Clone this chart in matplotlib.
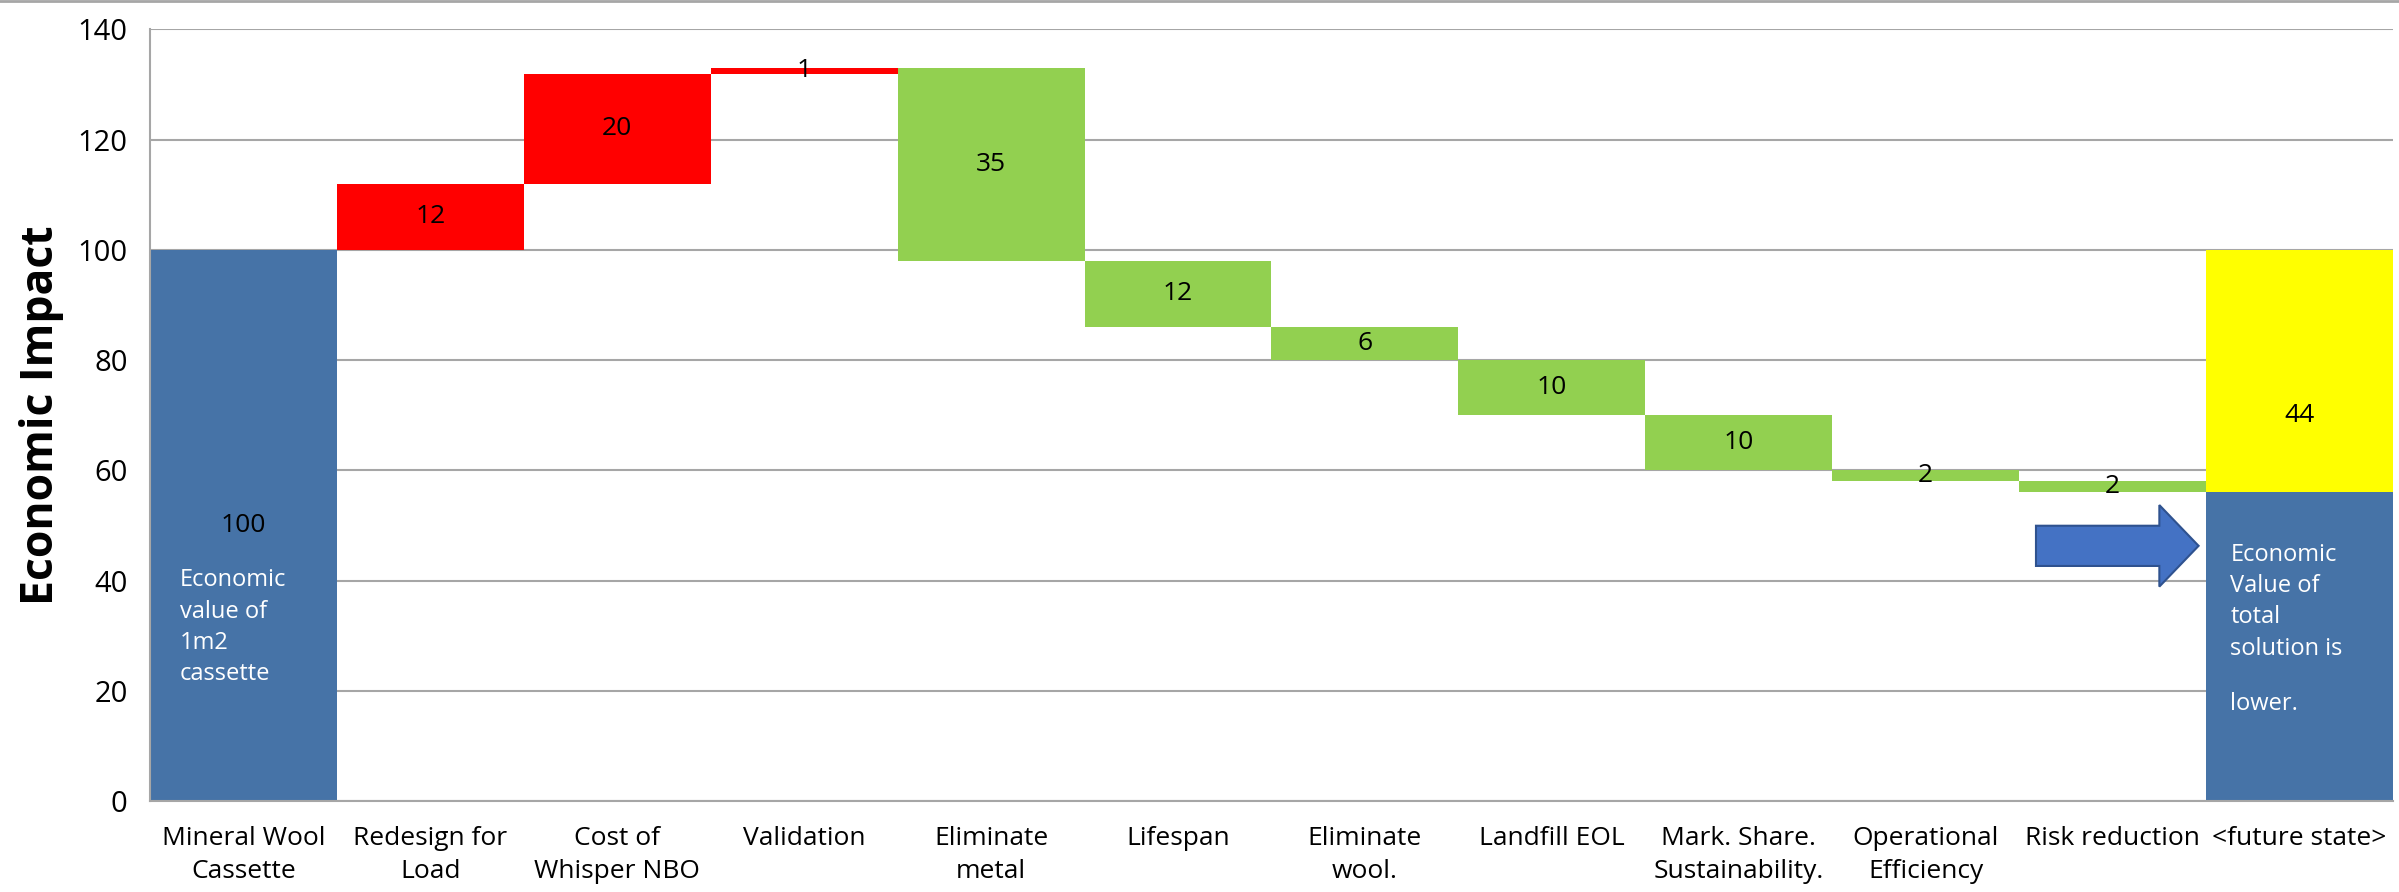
import numpy as np
import matplotlib.pyplot as plt
from matplotlib.patches import FancyArrow

plt.rcParams['font.family'] = ['Open Sans', 'DejaVu Sans']

# Waterfall data
categories = ['Mineral Wool\nCassette', 'Redesign for\nLoad', 'Cost of\nWhisper NBO',
              'Validation', 'Eliminate\nmetal', 'Lifespan', 'Eliminate\nwool.',
              'Landfill EOL', 'Mark. Share.\nSustainability.', 'Operational\nEfficiency',
              'Risk reduction', '<future state>']
start_value = 100
changes = [12, 20, 1, -35, -12, -6, -10, -10, -2, -2]
final_value = 56
saving = 44

blue = '#4673A7'
red = '#FF0000'
green = '#92D050'
yellow = '#FFFF00'

fig = plt.figure(figsize=(23.99, 8.92), dpi=100)
ax = fig.add_axes([0.0625, 0.102, 0.935, 0.865])

x = np.arange(len(categories))

# starting bar
ax.bar(x[0], start_value, width=1.0, color=blue, zorder=2)
ax.text(x[0], 50, str(start_value), ha='center', va='center', fontsize=19, color='black', zorder=4)

# floating bars
level = start_value
for i, c in enumerate(changes, start=1):
    new_level = level + c
    bottom = min(level, new_level)
    col = red if c > 0 else green
    ax.bar(x[i], abs(c), bottom=bottom, width=1.0, color=col, zorder=2)
    ax.text(x[i], bottom + abs(c) / 2, str(abs(c)), ha='center', va='center',
            fontsize=19, color='black', zorder=4)
    level = new_level

# final bar: remaining value + saving
ax.bar(x[-1], final_value, width=1.0, color=blue, zorder=2)
ax.bar(x[-1], saving, bottom=final_value, width=1.0, color=yellow, zorder=2)
ax.text(x[-1], 70, str(saving), ha='center', va='center', fontsize=19, color='black', zorder=4)

# notes inside blue bars
ax.text(-0.34, 42.2, 'Economic\nvalue of\n1m2\ncassette', ha='left', va='top',
        fontsize=17, color='white', linespacing=1.4, zorder=4)
ax.text(10.63, 46.8, 'Economic\nValue of\ntotal\nsolution is', ha='left', va='top',
        fontsize=17, color='white', linespacing=1.4, zorder=4)
ax.text(10.63, 19.8, 'lower.', ha='left', va='top', fontsize=17, color='white', zorder=4)

# arrow pointing at the final bar
ax.add_patch(FancyArrow(9.59, 46.3, 0.87, 0, width=7.3, head_width=14.8,
                        head_length=0.21, length_includes_head=True,
                        facecolor='#4472C4', edgecolor='#2F528F', linewidth=1.5, zorder=5))

ax.set_xlim(-0.5, len(categories) - 0.5)
ax.set_ylim(0, 140)
ax.set_yticks(np.arange(0, 141, 20))
ax.set_xticks(x)
ax.set_xticklabels(categories, fontsize=19, linespacing=1.4)
ax.tick_params(axis='y', labelsize=21, length=0, pad=16)
ax.tick_params(axis='x', length=0, pad=18)
ax.yaxis.grid(True, color='#A6A6A6', linewidth=1.5, zorder=1)
ax.set_axisbelow(True)
for side in ['top', 'right']:
    ax.spines[side].set_visible(False)
for side in ['left', 'bottom']:
    ax.spines[side].set_color('#A6A6A6')
    ax.spines[side].set_linewidth(1.5)

ax.set_ylabel('Economic Impact', fontsize=32, fontweight='bold', labelpad=10)

# thin frame line across the top of the figure
fig.add_artist(plt.Line2D([0, 1], [0.999, 0.999], color='#A6A6A6', linewidth=2,
                          transform=fig.transFigure))

fig.savefig('out.png', dpi=100)
